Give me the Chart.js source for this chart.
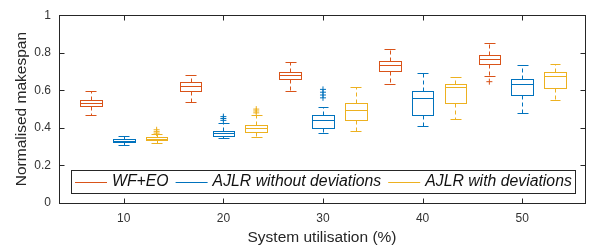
<!DOCTYPE html>
<html>
<head>
<meta charset="utf-8">
<script src="https://cdn.jsdelivr.net/npm/chart.js@4"></script>
<style>
  html, body { margin: 0; padding: 0; background: #fff; }
  #wrap { width: 590px; height: 250px; }
</style>
</head>
<body>
<div id="wrap"><canvas id="grafica" width="590" height="250"></canvas></div>
<script>
// utilisation groups
const positions = [10, 20, 30, 40, 50];
const xTicks = [10, 20, 30, 40, 50];
const yTicks = [0, 0.2, 0.4, 0.6, 0.8, 1];

// WF+EO
const wfLow = [0.467, 0.536, 0.596, 0.631, 0.674];
const wfQ1 = [0.515, 0.596, 0.658, 0.701, 0.741];
const wfMed = [0.531, 0.624, 0.682, 0.734, 0.766];
const wfQ3 = [0.546, 0.643, 0.699, 0.756, 0.789];
const wfHigh = [0.596, 0.684, 0.753, 0.821, 0.854];
const wfOut = [[], [], [], [], [0.646]];

// AJLR without deviations
const noDevLow = [0.309, 0.345, 0.375, 0.412, 0.478];
const noDevQ1 = [0.325, 0.359, 0.402, 0.469, 0.576];
const noDevMed = [0.332, 0.371, 0.44, 0.56, 0.632];
const noDevQ3 = [0.339, 0.385, 0.471, 0.594, 0.658];
const noDevHigh = [0.356, 0.428, 0.51, 0.692, 0.735];
const noDevOut = [[], [0.44, 0.45, 0.46], [0.56, 0.575, 0.59, 0.605], [], []];

// AJLR with deviations
const devLow = [0.318, 0.354, 0.385, 0.448, 0.546];
const devQ1 = [0.333, 0.376, 0.44, 0.535, 0.612];
const devMed = [0.342, 0.398, 0.496, 0.617, 0.677];
const devQ3 = [0.349, 0.416, 0.531, 0.632, 0.698];
const devHigh = [0.366, 0.471, 0.619, 0.673, 0.741];
const devOut = [[0.372, 0.38, 0.39], [0.48, 0.49, 0.5], [], [], []];

const etiquetas = ["WF+EO", "AJLR without deviations", "AJLR with deviations"];
const colores = ["#D95319", "#0072BD", "#EDB120"];
const desplaz = [-3.3, 0, 3.3];
const anchoCaja = 2.16;

const series = [
  { low: wfLow, q1: wfQ1, med: wfMed, q3: wfQ3, high: wfHigh, out: wfOut },
  { low: noDevLow, q1: noDevQ1, med: noDevMed, q3: noDevQ3, high: noDevHigh, out: noDevOut },
  { low: devLow, q1: devQ1, med: devMed, q3: devQ3, high: devHigh, out: devOut },
];

const ejeColor = "#262626";
const fuente = "'Liberation Sans', Arial, Helvetica, sans-serif";

// outliers as scatter points
const datasets = series.map((s, k) => {
  const pts = [];
  s.out.forEach((vals, i) => {
    vals.forEach((v) => pts.push({ x: positions[i] + desplaz[k], y: v }));
  });
  return {
    label: etiquetas[k],
    data: pts,
    pointStyle: "cross",
    radius: 3,
    borderColor: colores[k],
    backgroundColor: colores[k],
    borderWidth: 1,
  };
});

const px = (v) => Math.round(v) + 0.5;

const cajasPlugin = {
  id: "cajas",
  beforeDatasetsDraw(chart) {
    const { ctx, scales: { x, y } } = chart;
    ctx.save();
    ctx.lineWidth = 1;
    series.forEach((s, k) => {
      ctx.strokeStyle = colores[k];
      positions.forEach((p, i) => {
        const c = p + desplaz[k];
        const xl = px(x.getPixelForValue(c - anchoCaja / 2));
        const xr = px(x.getPixelForValue(c + anchoCaja / 2));
        const xc = px(x.getPixelForValue(c));
        const capL = px(x.getPixelForValue(c - anchoCaja / 4));
        const capR = px(x.getPixelForValue(c + anchoCaja / 4));
        const yLow = px(y.getPixelForValue(s.low[i]));
        const yQ1 = px(y.getPixelForValue(s.q1[i]));
        const yMed = px(y.getPixelForValue(s.med[i]));
        const yQ3 = px(y.getPixelForValue(s.q3[i]));
        const yHigh = px(y.getPixelForValue(s.high[i]));

        // whiskers (dashed)
        ctx.setLineDash([4, 3]);
        ctx.beginPath();
        ctx.moveTo(xc, yQ3);
        ctx.lineTo(xc, yHigh);
        ctx.moveTo(xc, yQ1);
        ctx.lineTo(xc, yLow);
        ctx.stroke();
        ctx.setLineDash([]);

        // caps
        ctx.beginPath();
        ctx.moveTo(capL, yHigh);
        ctx.lineTo(capR, yHigh);
        ctx.moveTo(capL, yLow);
        ctx.lineTo(capR, yLow);
        ctx.stroke();

        // box + median
        ctx.strokeRect(xl, yQ3, xr - xl, yQ1 - yQ3);
        ctx.beginPath();
        ctx.moveTo(xl, yMed);
        ctx.lineTo(xr, yMed);
        ctx.stroke();
      });
    });
    ctx.restore();
  },
  afterDraw(chart) {
    const { ctx, chartArea: a, scales: { x, y } } = chart;
    ctx.save();
    ctx.strokeStyle = ejeColor;
    ctx.lineWidth = 1;
    const l = px(a.left), r = px(a.right), t = px(a.top), b = px(a.bottom);
    ctx.strokeRect(l, t, r - l, b - t);
    // inward ticks on all sides
    ctx.beginPath();
    xTicks.forEach((v) => {
      const xx = px(x.getPixelForValue(v));
      ctx.moveTo(xx, b); ctx.lineTo(xx, b - 5);
      ctx.moveTo(xx, t); ctx.lineTo(xx, t + 5);
    });
    yTicks.forEach((v) => {
      const yy = px(y.getPixelForValue(v));
      ctx.moveTo(l, yy); ctx.lineTo(l + 5, yy);
      ctx.moveTo(r, yy); ctx.lineTo(r - 5, yy);
    });
    ctx.stroke();

    // legend inside plot, bottom
    ctx.font = "italic 15.8px " + fuente;
    const gx = a.left + 12;
    const gy = a.bottom - 33;
    const alto = 23;
    let ancho = 4;
    const anchos = etiquetas.map((e) => ctx.measureText(e).width);
    anchos.forEach((w, k) => { ancho += 32 + 5 + w + (k < 2 ? 7 : 3); });
    ctx.fillStyle = "#fff";
    ctx.fillRect(px(gx), px(gy), Math.round(ancho), alto);
    ctx.strokeRect(px(gx), px(gy), Math.round(ancho), alto);
    let cx = gx + 4;
    const cy = gy + alto / 2 + 0.5;
    ctx.textBaseline = "middle";
    etiquetas.forEach((e, k) => {
      ctx.strokeStyle = colores[k];
      ctx.beginPath();
      ctx.moveTo(cx, px(cy));
      ctx.lineTo(cx + 32, px(cy));
      ctx.stroke();
      cx += 37;
      ctx.fillStyle = "#111";
      ctx.fillText(e, cx, cy);
      cx += anchos[k] + 7;
    });
    ctx.restore();
  },
};

new Chart(document.getElementById("grafica"), {
  type: "scatter",
  data: { datasets },
  plugins: [cajasPlugin],
  options: {
    responsive: false,
    devicePixelRatio: 1,
    animation: false,
    layout: { padding: { top: 9, right: 5, left: 0, bottom: 0 } },
    plugins: { legend: { display: false }, tooltip: { enabled: false } },
    scales: {
      x: {
        type: "linear",
        min: 3.5,
        max: 56.3,
        afterBuildTicks: (s) => { s.ticks = xTicks.map((v) => ({ value: v })); },
        afterFit: (s) => { s.height = 47; },
        grid: { display: false, drawTicks: false },
        border: { display: false },
        ticks: { padding: 8, color: "#333", font: { size: 12, family: fuente } },
        title: {
          display: true,
          text: "System utilisation (%)",
          color: "#262626",
          font: { size: 15.5, family: fuente },
          padding: { top: 0, bottom: 3 },
        },
      },
      y: {
        min: 0,
        max: 1,
        afterBuildTicks: (s) => { s.ticks = yTicks.map((v) => ({ value: v })); },
        afterFit: (s) => { s.width = 59; },
        grid: { display: false, drawTicks: false },
        border: { display: false },
        ticks: {
          padding: 8,
          color: "#333",
          font: { size: 12, family: fuente },
          callback: (v) => String(Math.round(v * 10) / 10),
        },
        title: {
          display: true,
          text: "Normalised makespan",
          color: "#262626",
          font: { size: 15.5, family: fuente },
          padding: { top: 12, bottom: 0 },
        },
      },
    },
  },
});
</script>
</body>
</html>
